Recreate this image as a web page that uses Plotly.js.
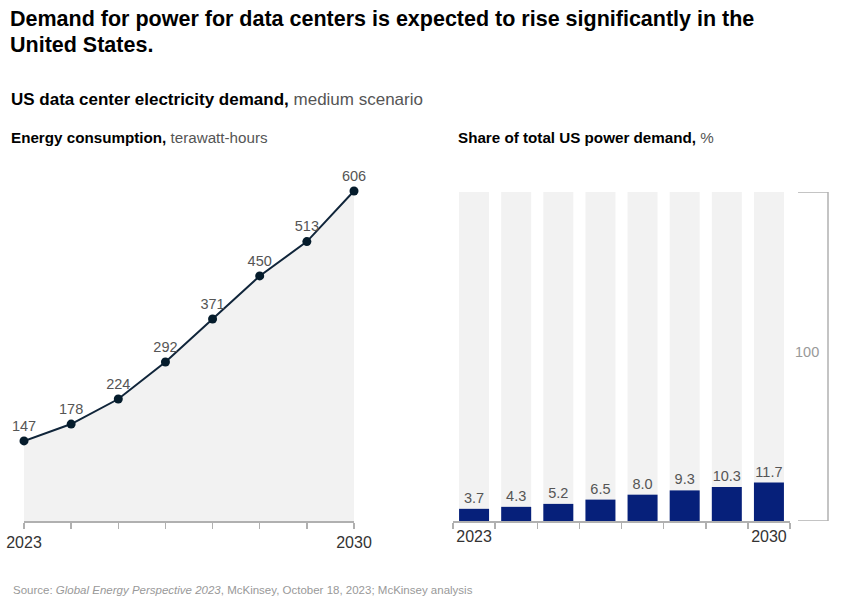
<!DOCTYPE html>
<html>
<head>
<meta charset="utf-8">
<script src="https://cdn.plot.ly/plotly-3.0.1.min.js"></script>
<style>
html,body{margin:0;padding:0;background:#fff;}
#chart{width:865px;height:604px;}
</style>
</head>
<body>
<div id="chart"></div>
<script>
// ---- data ----
const years = [2023, 2024, 2025, 2026, 2027, 2028, 2029, 2030];
const energyTWh = [147, 178, 224, 292, 371, 450, 513, 606];
const shareCategories = ["2023", "2024", "2025", "2026", "2027", "2028", "2029", "2030"];
const sharePct = [3.7, 4.3, 5.2, 6.5, 8.0, 9.3, 10.3, 11.7];
const shareTotal = [100, 100, 100, 100, 100, 100, 100, 100];
const energyLabels = ["147", "178", "224", "292", "371", "450", "513", "606"];
const shareLabels = ["3.7", "4.3", "5.2", "6.5", "8.0", "9.3", "10.3", "11.7"];
const tickTextEnds = ["2023", "", "", "", "", "", "", "2030"];

const W = 865, H = 604;
const px = v => v / W;
const py = v => 1 - v / H;
const FONT = "Liberation Sans, Arial, sans-serif";

const traces = [
  {
    type: "scatter",
    mode: "lines+markers+text",
    x: years,
    y: energyTWh,
    text: energyLabels,
    textposition: "top center",
    textfont: {family: FONT, size: 14.5, color: "#555"},
    fill: "tozeroy",
    fillcolor: "#f2f2f2",
    line: {color: "#10253a", width: 2},
    marker: {color: "#051c2c", size: 9},
    cliponaxis: false,
    xaxis: "x",
    yaxis: "y",
    hoverinfo: "skip"
  },
  {
    type: "bar",
    x: shareCategories,
    y: shareTotal,
    marker: {color: "#f2f2f2"},
    width: 0.712,
    xaxis: "x2",
    yaxis: "y2",
    hoverinfo: "skip"
  },
  {
    type: "bar",
    x: shareCategories,
    y: sharePct,
    text: shareLabels,
    textposition: "outside",
    textfont: {family: FONT, size: 14.5, color: "#555"},
    marker: {color: "#06207a"},
    width: 0.712,
    cliponaxis: false,
    xaxis: "x2",
    yaxis: "y2",
    hoverinfo: "skip"
  }
];

const axisLine = "#b0b0b0";

const layout = {
  width: W,
  height: H,
  margin: {l: 0, r: 0, t: 0, b: 0},
  paper_bgcolor: "#ffffff",
  plot_bgcolor: "rgba(0,0,0,0)",
  showlegend: false,
  barmode: "overlay",
  font: {family: FONT, color: "#333"},
  xaxis: {
    domain: [px(24), px(354)],
    range: [2023, 2030],
    tickmode: "array",
    tickvals: years,
    ticktext: tickTextEnds,
    tickangle: 0,
    ticks: "outside",
    ticklen: 6,
    tickwidth: 1.5,
    tickcolor: axisLine,
    showline: true,
    linecolor: axisLine,
    linewidth: 1.5,
    showgrid: false,
    zeroline: false,
    tickfont: {family: FONT, size: 16, color: "#333"},
    fixedrange: true
  },
  yaxis: {
    domain: [py(521), py(187)],
    range: [0, 613.3],
    visible: false,
    fixedrange: true
  },
  xaxis2: {
    domain: [px(453), px(790)],
    type: "category",
    range: [-0.5, 7.5],
    tickmode: "array",
    tickvals: shareCategories,
    ticktext: tickTextEnds,
    tickangle: 0,
    tickson: "boundaries",
    ticks: "outside",
    ticklen: 6,
    tickwidth: 1.5,
    tickcolor: axisLine,
    showline: true,
    linecolor: axisLine,
    linewidth: 1.5,
    showgrid: false,
    zeroline: false,
    tickfont: {family: FONT, size: 16, color: "#333"},
    anchor: "y2",
    fixedrange: true
  },
  yaxis2: {
    domain: [py(521), py(192)],
    range: [0, 100],
    visible: false,
    anchor: "x2",
    fixedrange: true
  },
  shapes: [
    {type: "line", xref: "paper", yref: "y2", x0: px(828), x1: px(828), y0: 0, y1: 100, line: {color: axisLine, width: 1.5}},
    {type: "line", xref: "paper", yref: "y2", x0: px(798), x1: px(828), y0: 100, y1: 100, line: {color: axisLine, width: 1.5}},
    {type: "line", xref: "paper", yref: "y2", x0: px(798), x1: px(828), y0: 0, y1: 0, line: {color: axisLine, width: 1.5}}
  ],
  annotations: [
    {xref: "paper", yref: "paper", x: px(8), y: py(19), xanchor: "left", yanchor: "middle", showarrow: false,
     text: "<b>Demand for power for data centers is expected to rise significantly in the</b>",
     font: {family: FONT, size: 21.5, color: "#000"}},
    {xref: "paper", yref: "paper", x: px(8), y: py(45), xanchor: "left", yanchor: "middle", showarrow: false,
     text: "<b>United States.</b>",
     font: {family: FONT, size: 21.5, color: "#000"}},
    {xref: "paper", yref: "paper", x: px(9), y: py(99), xanchor: "left", yanchor: "middle", showarrow: false,
     text: "<b>US data center electricity demand,</b> <span style='color:#555'>medium scenario</span>",
     font: {family: FONT, size: 17, color: "#000"}},
    {xref: "paper", yref: "paper", x: px(9), y: py(137), xanchor: "left", yanchor: "middle", showarrow: false,
     text: "<b>Energy consumption,</b> <span style='color:#555'>terawatt-hours</span>",
     font: {family: FONT, size: 15.2, color: "#000"}},
    {xref: "paper", yref: "paper", x: px(456), y: py(137), xanchor: "left", yanchor: "middle", showarrow: false,
     text: "<b>Share of total US power demand,</b> <span style='color:#555'>%</span>",
     font: {family: FONT, size: 15.2, color: "#000"}},
    {xref: "paper", yref: "y2", x: px(807), y: 51.5, xanchor: "center", yanchor: "middle", showarrow: false,
     text: "100",
     font: {family: FONT, size: 14.5, color: "#999"}},
    {xref: "paper", yref: "paper", x: px(11), y: py(590), xanchor: "left", yanchor: "middle", showarrow: false,
     text: "Source: <i>Global Energy Perspective 2023</i>, McKinsey, October 18, 2023; McKinsey analysis",
     font: {family: FONT, size: 11.5, color: "#999"}}
  ]
};

Plotly.newPlot("chart", traces, layout, {displayModeBar: false, staticPlot: true});
</script>
</body>
</html>
